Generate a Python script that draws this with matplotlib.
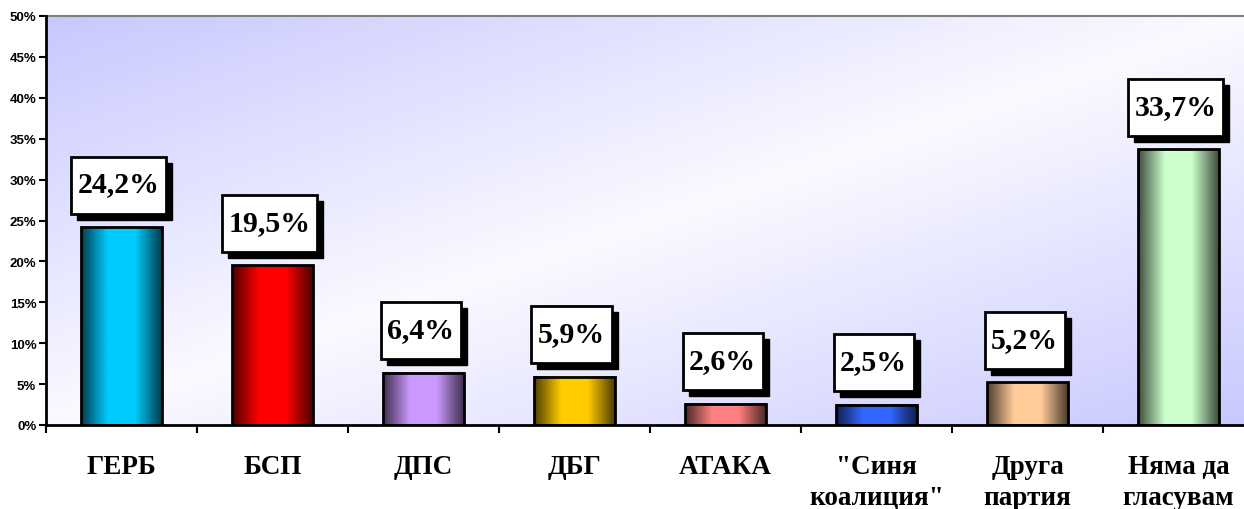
import numpy as np
import matplotlib
matplotlib.use("Agg")
import matplotlib.pyplot as plt
from matplotlib.colors import to_rgb
from matplotlib.patches import Rectangle
from matplotlib.transforms import IdentityTransform

categories = ['ГЕРБ', 'БСП', 'ДПС', 'ДБГ', 'АТАКА', '"Синя\nкоалиция"', 'Друга\nпартия', 'Няма да\nгласувам']
values = [24.2, 19.5, 6.4, 5.9, 2.6, 2.5, 5.2, 33.7]
value_labels = ['24,2%', '19,5%', '6,4%', '5,9%', '2,6%', '2,5%', '5,2%', '33,7%']
bar_colors = ['#00ccff', '#ff0000', '#cc99ff', '#ffcc00', '#ff8080', '#3366ff', '#ffcc99', '#ccffcc']
yticks = list(range(0, 55, 5))
ytick_labels = [f'{t}%' for t in yticks]

W, H, DPI = 1244, 510, 100
fig = plt.figure(figsize=(W / DPI, H / DPI), dpi=DPI)
ax = fig.add_axes([46 / W, 1 - 426 / H, 1208 / W, 409 / H])

n = len(categories)
ax.set_xlim(-0.5, n - 0.5)
ax.set_ylim(0, 50)

# background diagonal gradient (axes fraction)
gx, gy = np.meshgrid(np.linspace(0, 1, 300), np.linspace(1, 0, 200))
t = (gx + (1 - gy)) / 2.0
s = np.abs(2 * t - 1)
lav = np.array(to_rgb('#c8c8ff'))
wht = np.array(to_rgb('#fafaff'))
img = wht[None, None, :] * (1 - s[..., None]) + lav[None, None, :] * s[..., None]
ax.imshow(img, extent=[0, 1, 0, 1], transform=ax.transAxes, aspect='auto', zorder=0, interpolation='bilinear')

# bars
bars = ax.bar(range(n), values, width=0.53, facecolor='none', edgecolor='black', linewidth=2, zorder=3)
u = np.linspace(0, 1, 200)
prof = 0.3 + 0.7 * np.clip((1 - np.abs(2 * u - 1)) * 1.5, 0, 1)
for b, c in zip(bars, bar_colors):
    col = np.array(to_rgb(c))
    g = (prof[:, None] * col[None, :])[None, :, :]
    ax.imshow(g, extent=[b.get_x(), b.get_x() + b.get_width(), 0, b.get_height()],
              aspect='auto', zorder=2, interpolation='bilinear')

# axes styling
ax.set_yticks(yticks)
ax.set_yticklabels(ytick_labels, fontfamily='Liberation Sans', fontweight='bold', fontsize=9.5)
ax.set_xticks(np.arange(n + 1) - 0.5)
ax.set_xticklabels([])
ax.set_xticks(range(n), minor=True)
ax.set_xticklabels(categories, minor=True, fontfamily='Liberation Serif', fontweight='bold',
                   fontsize=19.5, linespacing=1.32, va='top')
ax.tick_params(axis='x', which='major', direction='out', length=6, width=1.5, color='black')
ax.tick_params(axis='x', which='minor', length=0, pad=21)
ax.tick_params(axis='y', direction='out', length=5, width=1.5, pad=2)
for sp in ['left', 'bottom']:
    ax.spines[sp].set_linewidth(2)
    ax.spines[sp].set_color('black')
    ax.spines[sp].set_zorder(5)
ax.spines['top'].set_color('#808080')
ax.spines['top'].set_linewidth(1.5)
ax.spines['right'].set_visible(False)

# value labels with shadowed boxes
texts = []
for i, (v, lab) in enumerate(zip(values, value_labels)):
    tx = ax.annotate(lab, xy=(i, v), xytext=(-3, 43), textcoords='offset pixels',
                     ha='center', va='center', fontfamily='Liberation Serif', fontweight='bold',
                     fontsize=21.5, zorder=8, annotation_clip=False)
    texts.append(tx)

fig.canvas.draw()
r = fig.canvas.get_renderer()
for tx in texts:
    bb = tx.get_window_extent(r)
    cx = (bb.x0 + bb.x1) / 2
    cy = (bb.y0 + bb.y1) / 2
    bw = bb.width + 13
    bh = 57
    x0, y0 = cx - bw / 2, cy - bh / 2 - 1
    shadow = Rectangle((x0 + 6, y0 - 6), bw, bh, facecolor='black', edgecolor='black', zorder=6)
    box = Rectangle((x0, y0), bw, bh, facecolor='white', edgecolor='black', linewidth=2, zorder=7)
    for p in (shadow, box):
        p.set_transform(IdentityTransform())
        p.set_clip_on(False)
        ax.add_artist(p)

fig.savefig('out.png', dpi=DPI, facecolor='white')
